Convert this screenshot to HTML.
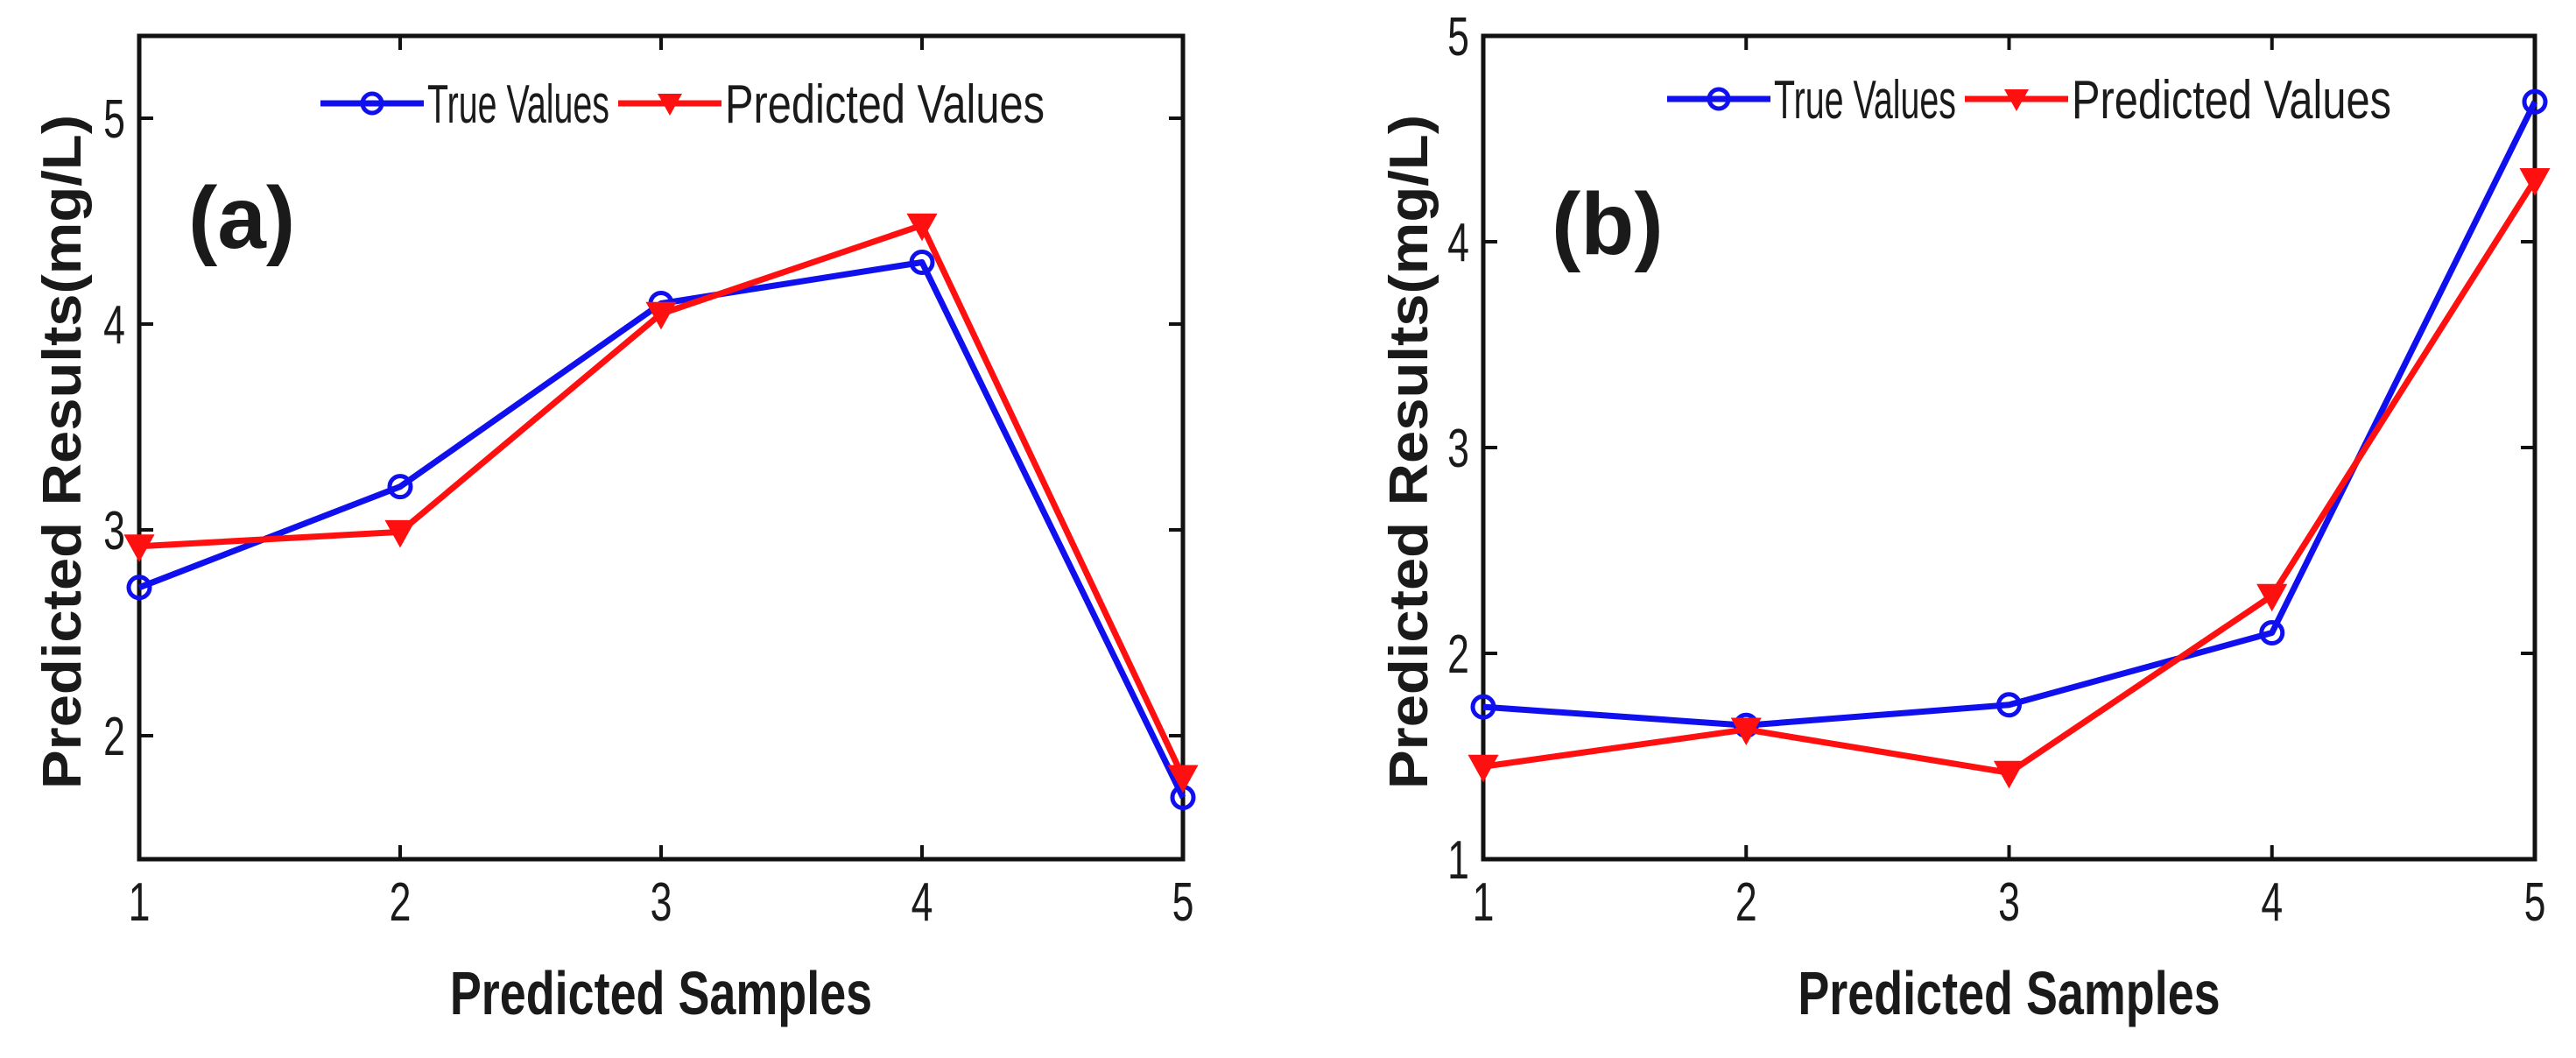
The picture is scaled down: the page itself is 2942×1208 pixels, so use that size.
<!DOCTYPE html>
<html><head><meta charset="utf-8"><style>
html,body{margin:0;padding:0;background:#fff;}
svg{display:block;font-family:"Liberation Sans Narrow","Liberation Sans",sans-serif;}
</style></head><body>
<svg id="chart" width="2942" height="1208" viewBox="0 0 2942 1208"></svg>
<script>
const categories = [1, 2, 3, 4, 5];
const trueA = [2.72, 3.21, 4.10, 4.30, 1.70];
const predA = [2.92, 2.99, 4.05, 4.48, 1.80];
const trueB = [1.74, 1.65, 1.75, 2.10, 4.68];
const predB = [1.45, 1.63, 1.42, 2.28, 4.30];
const yTicksA = [2, 3, 4, 5];
const yTicksB = [1, 2, 3, 4, 5];

const NS = "http://www.w3.org/2000/svg";
const svg = document.getElementById("chart");
function mk(tag, attrs, parent) {
  const e = document.createElementNS(NS, tag);
  for (const k in attrs) e.setAttribute(k, attrs[k]);
  (parent || svg).appendChild(e);
  return e;
}
function ctext(parent, x, y, str, size, anchor, weight, sx) {
  const t = mk("text", {x: 0, y: 0, "font-size": size, "text-anchor": anchor, "font-weight": weight, fill: "#1a1a1a",
    transform: `translate(${x},${y}) scale(${sx},1)`}, parent);
  t.textContent = str;
  return t;
}
function panel(cfg) {
  const g = mk("g", {});
  
  
  const L = cfg.left, R = cfg.right, T = 41, B = 981;
  const xs = v => L + (v - 1) / 4 * (R - L);
  const ys = v => B - (v - cfg.ymin) / (cfg.ymax - cfg.ymin) * (B - T);
  categories.forEach(c => {
    mk("line", {x1: xs(c), x2: xs(c), y1: B, y2: B - 16, stroke: "#111", "stroke-width": 4}, g);
    mk("line", {x1: xs(c), x2: xs(c), y1: T, y2: T + 16, stroke: "#111", "stroke-width": 4}, g);
    const t = ctext(g, xs(c), 1051, c, 62, "middle", "normal", 0.72);
    
    
  });
  cfg.yticks.forEach(v => {
    mk("line", {x1: L, x2: L + 16, y1: ys(v), y2: ys(v), stroke: "#111", "stroke-width": 4}, g);
    mk("line", {x1: R, x2: R - 16, y1: ys(v), y2: ys(v), stroke: "#111", "stroke-width": 4}, g);
    const t = ctext(g, L - 16, ys(v) + 22, v, 62, "end", "normal", 0.72);
    
    
  });
  const box = mk("rect", {x: L, y: T, width: R - L, height: B - T, fill: "none", stroke: "#111", "stroke-width": 5}, g);
  
  
  function series(vals, color, marker, nm) {
    const pts = vals.map((v, i) => xs(categories[i]) + "," + ys(v)).join(" ");
    const pl = mk("polyline", {points: pts, fill: "none", stroke: color, "stroke-width": 7, "stroke-linejoin": "round"}, g);
    
    
    vals.forEach((v, i) => {
      const x = xs(categories[i]), y = ys(v);
      let m;
      if (marker === "o") m = mk("circle", {cx: x, cy: y, r: 12, fill: "none", stroke: color, "stroke-width": 5}, g);
      else m = mk("polygon", {points: `${x-15},${y-12} ${x+15},${y-12} ${x},${y+15}`, fill: color, stroke: color, "stroke-width": 3}, g);
      
      
    });
  }
  series(cfg.t, "#1010ee", "o", "true-values");
  series(cfg.p, "#ff1010", "v", "predicted-values");
  const lg = mk("g", {}, g);
  
  
  const ly = cfg.ly, lx = cfg.lx;
  mk("line", {x1: lx, x2: lx + 118, y1: ly, y2: ly, stroke: "#1010ee", "stroke-width": 7}, lg);
  mk("circle", {cx: lx + 59, cy: ly, r: 11, fill: "none", stroke: "#1010ee", "stroke-width": 5}, lg);
  const t1 = mk("text", {x: lx + 122, y: ly + 22, "font-size": 62, fill: "#1a1a1a", textLength: 208, lengthAdjust: "spacingAndGlyphs"}, lg);
  t1.textContent = "True Values";
  
  
  const px = lx + 340;
  mk("line", {x1: px, x2: px + 118, y1: ly, y2: ly, stroke: "#ff1010", "stroke-width": 7}, lg);
  mk("polygon", {points: `${px+45},${ly-11} ${px+73},${ly-11} ${px+59},${ly+14}`, fill: "#ff1010"}, lg);
  const t2 = mk("text", {x: px + 122, y: ly + 22, "font-size": 62, fill: "#1a1a1a", textLength: 365, lengthAdjust: "spacingAndGlyphs"}, lg);
  t2.textContent = "Predicted Values";
  
  
  const pl = mk("text", {x: cfg.labx, y: cfg.laby, "font-size": 100, "font-weight": "bold", fill: "#1a1a1a", "font-family": "Liberation Sans, sans-serif"}, g);
  pl.textContent = cfg.letter;
  
  
  const xt = ctext(g, (L + R) / 2, 1158, "Predicted Samples", 70, "middle", "bold", 0.77);
  
  
  const yt = mk("text", {x: 0, y: 0, "font-size": 62, "font-weight": "bold", "text-anchor": "middle", fill: "#1a1a1a", "font-family": "Liberation Sans, sans-serif",
    textLength: 770, lengthAdjust: "spacingAndGlyphs", transform: `translate(${cfg.ytx},516) rotate(-90)`}, g);
  yt.textContent = "Predicted Results(mg/L)";
  
  
}
panel({name: "panel-a", left: 159, right: 1351, ymin: 1.4, ymax: 5.4, yticks: yTicksA, t: trueA, p: predA,
  lx: 366, ly: 118, labx: 215, laby: 283, letter: "(a)", ytx: 92});
panel({name: "panel-b", left: 1694, right: 2895, ymin: 1, ymax: 5, yticks: yTicksB, t: trueB, p: predB,
  lx: 1904, ly: 113, labx: 1772, laby: 290, letter: "(b)", ytx: 1630});
</script>
</body></html>
